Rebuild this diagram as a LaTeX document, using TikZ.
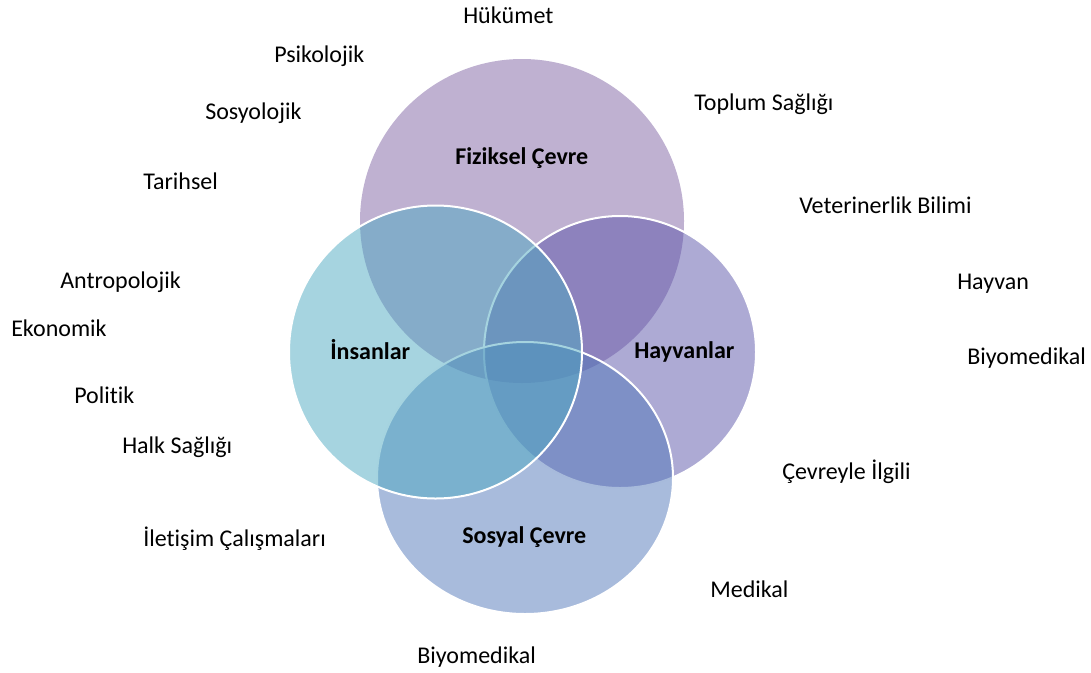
\documentclass[tikz,border=0pt]{standalone}
\usepackage{fontspec}
\setmainfont[Ligatures=NoCommon]{Carlito}
\definecolor{fizik}{RGB}{127,99,163}
\definecolor{insan}{RGB}{77,169,193}
\definecolor{hayvan}{RGB}{91,85,169}
\definecolor{sosyal}{RGB}{81,119,185}

\begin{document}
\begin{tikzpicture}
  [x=0.75pt,y=-0.75pt,
   every node/.style={anchor=base west,inner sep=0pt,font=\fontsize{18}{22}\selectfont},
   hub/.style={font=\fontsize{18}{22}\selectfont\bfseries},
   ring/.style={fill=#1,fill opacity=.5,draw=white,line width=1.5pt}]
  \useasboundingbox (0,0) rectangle (1091,672);

  % four overlapping fields
  \fill[fizik,fill opacity=.5] (522,221) circle (162);
  \filldraw[ring=hayvan] (620,352) circle (136);
  \filldraw[ring=sosyal] (525,478) ellipse (148 and 136);
  \filldraw[ring=insan] (435.5,352) circle (146.5);

  \node[hub] (fiz) at (455,164) {Fiziksel Çevre};
  \node[hub] (ins) at (330,359) {İnsanlar};
  \node[hub] (hay) at (634,358) {Hayvanlar};
  \node[hub] (sos) at (462,543) {Sosyal Çevre};

  % disciplines round the circles
\foreach \x/\y/\nm/\txt in
{463/23/huk/Hükümet, 274/62/psi/Psikolojik, 205/119/sosy/Sosyolojik,
 143/189/tar/Tarihsel, 60/288/ant/Antropolojik, 11/336/eko/Ekonomik,
 74/403/pol/Politik, 122/453/halk/Halk Sağlığı, 143/546/ilet/İletişim Çalışmaları,
 417/663/biyoa/Biyomedikal, 710/597/med/Medikal, 782/479/cev/Çevreyle İlgili,
 967/364/biyob/Biyomedikal, 957/289/hyv/Hayvan, 799/213/vet/Veterinerlik Bilimi,
 694/110/top/Toplum Sağlığı}
    \node (\nm) at (\x,\y) {\txt};
\end{tikzpicture}
\end{document}
